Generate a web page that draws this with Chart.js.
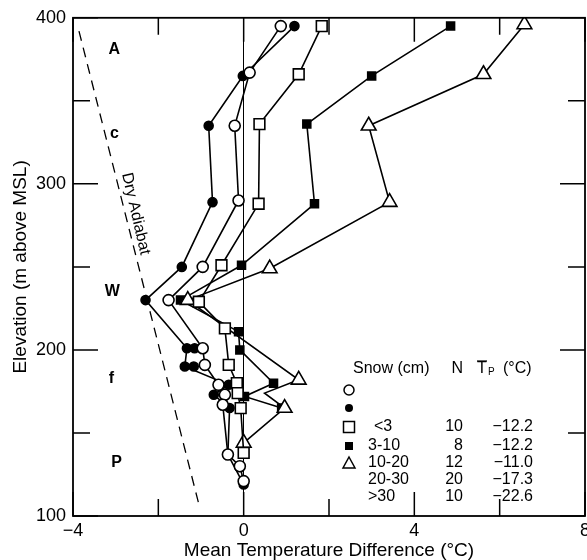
<!DOCTYPE html>
<html>
<head>
<meta charset="utf-8">
<script src="https://cdn.jsdelivr.net/npm/chart.js"></script>
<style>
  html, body { margin: 0; padding: 0; background: #fff; overflow: hidden; }
  #wrap { width: 587px; height: 560px; overflow: hidden; }
</style>
</head>
<body>
<div id="wrap"><canvas id="profile" width="600" height="560"></canvas></div>
<script>
// mean temperature difference (°C) against elevation (m above MSL), one profile per symbol
const openCircleT = [0.87, 0.14, -0.21, -0.12, -0.96, -1.76, -0.96, -0.91, -0.59, -0.44, -0.49, -0.37, -0.09, 0.0];
const openCircleZ = [395, 367, 335, 290, 250, 230, 201, 191, 179, 173, 167, 137, 130, 121];

const filledCircleT = [1.19, -0.02, -0.82, -0.73, -1.45, -2.30, -1.33, -1.38, -0.35, -0.70, -0.33, -0.37, 0.0];
const filledCircleZ = [395, 365, 335, 289, 250, 230, 201, 190, 179, 173, 165, 137, 119];
const extraFilledT = [-1.15, -1.17];
const extraFilledZ = [201, 190];

const openSquareT = [1.83, 1.29, 0.37, 0.35, -0.52, -1.05, -0.44, -0.35, -0.16, -0.14, -0.07, 0.0];
const openSquareZ = [395, 366, 336, 288, 251, 229, 213, 191, 180, 174, 165, 138];

const filledSquareT = [4.85, 3.00, 1.48, 1.66, -0.05, -1.48, -0.12, -0.09, 0.70, 0.02, 0.89];
const filledSquareZ = [395, 365, 336, 288, 251, 230, 211, 200, 180, 172, 165];

const triangleT = [6.58, 5.62, 2.93, 3.42, 0.61, -1.31, 1.29, 0.49, 0.96, 0.0];
const triangleZ = [396, 366, 335, 289, 249, 230, 182, 174, 165, 144];
const triangleBend = 7; // the kink near 174 m has no symbol

// dry adiabat reference line
const adiabatT = [-3.86, -1.05];
const adiabatZ = [392, 107];

// layer letters on the left
const layerLabels = ['A', 'c', 'W', 'f', 'P'];
const layerT = [-3.03, -3.03, -3.08, -3.1, -2.98];
const layerZ = [381, 330, 235, 183, 132];

// legend table
const snowClasses = ['<3', '3-10', '10-20', '20-30', '>30'];
const snowN = [10, 8, 12, 20, 10];
const snowTp = [-12.2, -12.2, -11.0, -17.3, -22.6];

const FONT = '"Liberation Sans", Arial, Helvetica, sans-serif';
const minus = v => String(v).replace('-', '\u2212');
const pts = (T, Z) => T.map((t, i) => ({ x: t, y: Z[i] }));

function series(T, Z, style, radius, fill) {
  return {
    data: pts(T, Z),
    showLine: true,
    borderColor: '#000',
    borderWidth: 1.6,
    pointStyle: style,
    pointRadius: radius,
    pointBorderWidth: 1.6,
    pointBorderColor: '#000',
    pointBackgroundColor: fill,
    tension: 0
  };
}

function drawSym(ctx, kind, x, y) {
  ctx.beginPath();
  if (kind === 'oc') { ctx.arc(x, y, 5, 0, Math.PI * 2); ctx.fillStyle = '#fff'; ctx.fill(); ctx.stroke(); }
  if (kind === 'fc') { ctx.arc(x, y, 4, 0, Math.PI * 2); ctx.fillStyle = '#000'; ctx.fill(); }
  if (kind === 'os') { ctx.rect(x - 5.5, y - 5.5, 11, 11); ctx.fillStyle = '#fff'; ctx.fill(); ctx.stroke(); }
  if (kind === 'fs') { ctx.rect(x - 4, y - 4, 8, 8); ctx.fillStyle = '#000'; ctx.fill(); }
  if (kind === 'tr') {
    ctx.moveTo(x, y - 6); ctx.lineTo(x + 6, y + 5); ctx.lineTo(x - 6, y + 5); ctx.closePath();
    ctx.fillStyle = '#fff'; ctx.fill(); ctx.stroke();
  }
}

const frame = {
  id: 'frame',
  afterDraw(chart) {
    const { ctx, chartArea: a, scales: { x, y } } = chart;
    ctx.save();
    ctx.strokeStyle = '#000';
    ctx.lineWidth = 1.8;
    ctx.strokeRect(a.left, a.top, a.right - a.left, a.bottom - a.top);

    // inward tick marks on all four sides
    ctx.lineWidth = 1.5;
    ctx.beginPath();
    x.ticks.forEach(t => {
      const px = x.getPixelForValue(t.value);
      const L = t.value % 4 === 0 ? 24 : 17;
      ctx.moveTo(px, a.bottom); ctx.lineTo(px, a.bottom - L);
      ctx.moveTo(px, a.top); ctx.lineTo(px, a.top + L);
    });
    y.ticks.forEach(t => {
      const py = y.getPixelForValue(t.value);
      const L = t.value % 100 === 0 ? 25 : 17;
      ctx.moveTo(a.left, py); ctx.lineTo(a.left + L, py);
      ctx.moveTo(a.right, py); ctx.lineTo(a.right - L, py);
    });
    ctx.stroke();

    ctx.fillStyle = '#000';
    ctx.textBaseline = 'middle';
    ctx.textAlign = 'center';
    ctx.font = 'bold 16px ' + FONT;
    layerLabels.forEach((s, i) => ctx.fillText(s, x.getPixelForValue(layerT[i]), y.getPixelForValue(layerZ[i])));

    // label along the dry adiabat
    const x0 = x.getPixelForValue(adiabatT[0]), y0 = y.getPixelForValue(adiabatZ[0]);
    const x1 = x.getPixelForValue(adiabatT[1]), y1 = y.getPixelForValue(adiabatZ[1]);
    ctx.save();
    ctx.translate(x.getPixelForValue(-2.53), y.getPixelForValue(282));
    ctx.rotate(Math.atan2(y1 - y0, x1 - x0) + 0.02);
    ctx.font = '16px ' + FONT;
    ctx.fillText('Dry Adiabat', 0, 0);
    ctx.restore();

    // legend table
    ctx.font = '16px ' + FONT;
    ctx.textAlign = 'left';
    ctx.fillText('Snow (cm)', 353, 369);
    ctx.textAlign = 'right';
    ctx.fillText('N', 463, 369);
    ctx.textAlign = 'left';
    ctx.fillText('T', 477, 369);
    ctx.font = '10px ' + FONT;
    ctx.fillText('P', 488, 372);
    ctx.font = '16px ' + FONT;
    ctx.fillText('(\u00b0C)', 503, 369);
    ctx.lineWidth = 1.2;
    ctx.beginPath(); ctx.moveTo(477, 361); ctx.lineTo(487, 361); ctx.stroke();

    ctx.lineWidth = 1.5;
    [['oc', 390], ['fc', 408], ['os', 427], ['fs', 446], ['tr', 463]].forEach(([k, sy]) => drawSym(ctx, k, 349, sy));

    const rowY = [427, 446, 463, 480, 497];
    ctx.fillStyle = '#000';
    snowClasses.forEach((c, i) => {
      ctx.textAlign = 'left';
      ctx.fillText(c, i === 0 ? 374 : 368, rowY[i]);
      ctx.textAlign = 'right';
      ctx.fillText(String(snowN[i]), 463, rowY[i]);
      ctx.fillText(minus(snowTp[i].toFixed(1)), 533, rowY[i]);
    });
    ctx.restore();
  }
};

new Chart(document.getElementById('profile'), {
  type: 'scatter',
  data: {
    datasets: [
      series(openCircleT, openCircleZ, 'circle', 5.5, '#fff'),
      series(openSquareT, openSquareZ, 'rect', 7.6, '#fff'),
      series(triangleT, triangleZ, 'triangle', c => (c.dataIndex === triangleBend ? 0 : 8.5), '#fff'),
      series(filledCircleT, filledCircleZ, 'circle', 4.5, '#000'),
      series(filledSquareT, filledSquareZ, 'rect', 5.6, '#000'),
      Object.assign(series(extraFilledT, extraFilledZ, 'circle', 4.5, '#000'), { showLine: false }),
      {
        data: pts(adiabatT, adiabatZ),
        showLine: true,
        borderColor: '#000',
        borderWidth: 1.3,
        borderDash: [10, 7],
        pointRadius: 0
      }
    ]
  },
  options: {
    responsive: false,
    animation: false,
    devicePixelRatio: 1,
    layout: { padding: { left: 0, right: 15, top: 16, bottom: 0 } },
    plugins: { legend: { display: false }, tooltip: { enabled: false } },
    scales: {
      x: {
        type: 'linear',
        min: -4, max: 8,
        ticks: {
          stepSize: 2, autoSkip: false, maxRotation: 0, padding: 4,
          color: '#000', font: { family: FONT, size: 18 },
          callback: v => (v % 4 === 0 ? minus(v) : '')
        },
        grid: {
          drawTicks: false,
          lineWidth: 1,
          color: c => (c.tick && c.tick.value === 0 ? '#000' : 'rgba(0,0,0,0)')
        },
        border: { display: false },
        title: {
          display: true, text: 'Mean Temperature Difference (\u00b0C)', color: '#000',
          font: { family: FONT, size: 19, lineHeight: 1.0 }, padding: { top: 0, bottom: 0 }
        },
        afterFit: s => { s.height = 44; }
      },
      y: {
        type: 'linear',
        min: 100, max: 400,
        ticks: {
          stepSize: 50, autoSkip: false, padding: 7,
          color: '#000', font: { family: FONT, size: 18 },
          callback: v => (v % 100 === 0 ? String(v) : '')
        },
        grid: { display: false, drawTicks: false },
        border: { display: false },
        title: {
          display: true, text: 'Elevation (m above MSL)', color: '#000',
          font: { family: FONT, size: 19 }, padding: { top: 9, bottom: 0 }
        },
        afterFit: s => { s.width = 73; }
      }
    }
  },
  plugins: [frame]
});
</script>
</body>
</html>
